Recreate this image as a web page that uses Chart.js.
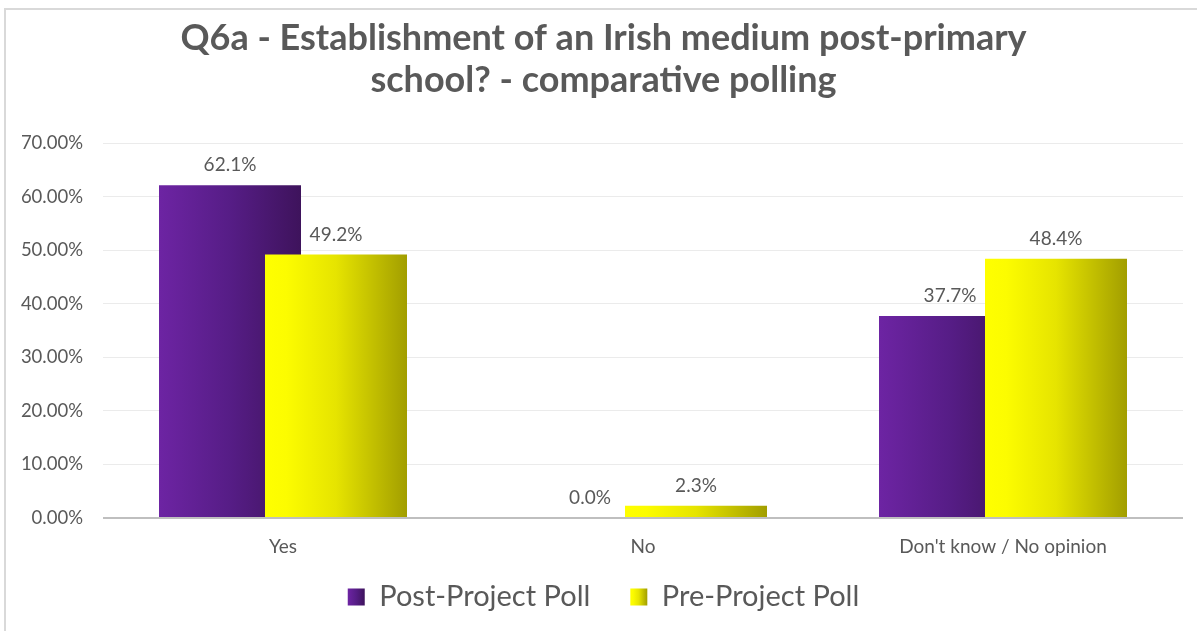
<!DOCTYPE html>
<html><head><meta charset="utf-8">
<script src="https://cdn.jsdelivr.net/npm/chart.js@4.4.1/dist/chart.umd.min.js"></script>
<style>
html,body{margin:0;padding:0;background:#fff;}
#wrap{position:relative;width:1197px;height:631px;overflow:hidden;}
#frame{position:absolute;left:4px;top:8px;width:1300px;height:700px;border-top:2px solid #d9d9d9;border-left:2px solid #d9d9d9;pointer-events:none;}
canvas{position:absolute;left:0;top:0;}
</style></head><body>
<div id="wrap"><canvas id="c" width="1197" height="631"></canvas><div id="frame"></div></div>
<script>
const categories = ["Yes", "No", "Don't know / No opinion"];
const postProject = [62.1, 0.0, 37.7];
const preProject = [49.2, 2.3, 48.4];
const seriesNames = ["Post-Project Poll", "Pre-Project Poll"];
const titleLines = ["Q6a - Establishment of an Irish medium post-primary", "school? - comparative polling"];
const yMin = 0, yMax = 70, yStep = 10;

const FONT = "Lato, 'Open Sans', sans-serif";
const TEXT = '#595959';
const purpleStops = [[0, '#6d24a3'], [0.5, '#561d86'], [1, '#3e135c']];
const yellowStops = [[0, '#ffff00'], [0.15, '#fcfc00'], [0.5, '#e6e400'], [1, '#a29e00']];
const gradStops = [purpleStops, yellowStops];

function makeGrad(ctx, x0, x1, stops) {
  const g = ctx.createLinearGradient(x0, 0, x1, 0);
  stops.forEach(([o, c]) => g.addColorStop(o, c));
  return g;
}

const customDraw = {
  id: 'customDraw',
  afterLayout(chart) {
    // widen the label clipping boxes so tick labels are not cut
    const y = chart.scales.y;
    y.left = 0; y.width = y.right;
    const x = chart.scales.x;
    x.bottom = x.top + 60; x.height = 60;
  },
  beforeDraw(chart) {
    const lg = chart.legend;
    if (lg && lg.legendItems && lg.legendHitBoxes) {
      const bw = lg.options.labels.boxWidth;
      lg.legendItems.forEach((it, i) => {
        const hb = lg.legendHitBoxes[i];
        if (hb) it.fillStyle = makeGrad(chart.ctx, hb.left, hb.left + bw, gradStops[it.datasetIndex]);
      });
    }
  },
  beforeDatasetsDraw(chart) {
    const ctx = chart.ctx;
    chart.data.datasets.forEach((ds, i) => {
      const meta = chart.getDatasetMeta(i);
      meta.data.forEach(el => {
        const w = el.width;
        el.options = Object.assign({}, el.options, {
          backgroundColor: makeGrad(ctx, el.x - w / 2, el.x + w / 2, gradStops[i]),
          borderWidth: 0
        });
      });
      meta.controller.draw();
    });
    return false;
  },
  afterDraw(chart) {
    const ctx = chart.ctx;
    ctx.save();
    ctx.font = "19px " + FONT;
    ctx.fillStyle = TEXT;
    ctx.textAlign = 'center';
    ctx.textBaseline = 'middle';
    chart.data.datasets.forEach((ds, i) => {
      const meta = chart.getDatasetMeta(i);
      meta.data.forEach((el, j) => {
        ctx.fillText(ds.data[j].toFixed(1) + '%', el.x, el.y - 20);
      });
    });
    ctx.restore();
  }
};

new Chart(document.getElementById('c'), {
  type: 'bar',
  data: {
    labels: categories,
    datasets: [
      { label: seriesNames[0], data: postProject, backgroundColor: '#561d86', borderWidth: 0 },
      { label: seriesNames[1], data: preProject, backgroundColor: '#e6e400', borderWidth: 0 }
    ]
  },
  options: {
    responsive: false,
    animation: false,
    categoryPercentage: 212 / 360,
    barPercentage: 142 / 106,
    layout: { padding: { left: 24, right: 14, top: 0, bottom: 9.5 } },
    plugins: {
      title: {
        display: true,
        text: titleLines,
        color: TEXT,
        font: { family: FONT, size: 36, weight: 'bold', lineHeight: 42 / 36 },
        padding: { top: 17, bottom: 42 }
      },
      legend: {
        position: 'bottom',
        labels: {
          color: TEXT,
          font: { family: FONT, size: 29 },
          boxWidth: 17,
          boxHeight: 17,
          padding: 40
        }
      },
      tooltip: { enabled: false }
    },
    scales: {
      x: {
        afterFit: s => { s.height = 24.5; },
        grid: { display: false, drawTicks: false },
        border: { display: false },
        ticks: { color: TEXT, font: { family: FONT, size: 19 }, padding: 17 }
      },
      y: {
        min: yMin, max: yMax,
        afterFit: s => { s.width = 79; },
        border: { display: false },
        grid: {
          drawTicks: false,
          color: c => (c.tick && c.tick.value === 0) ? '#bfbfbf' : '#ebebeb',
          lineWidth: c => (c.tick && c.tick.value === 0) ? 2 : 1
        },
        ticks: {
          stepSize: yStep,
          color: TEXT,
          font: { family: FONT, size: 18.5 },
          padding: 20,
          callback: v => v.toFixed(2) + '%'
        }
      }
    }
  },
  plugins: [customDraw]
});
</script>
</body></html>
